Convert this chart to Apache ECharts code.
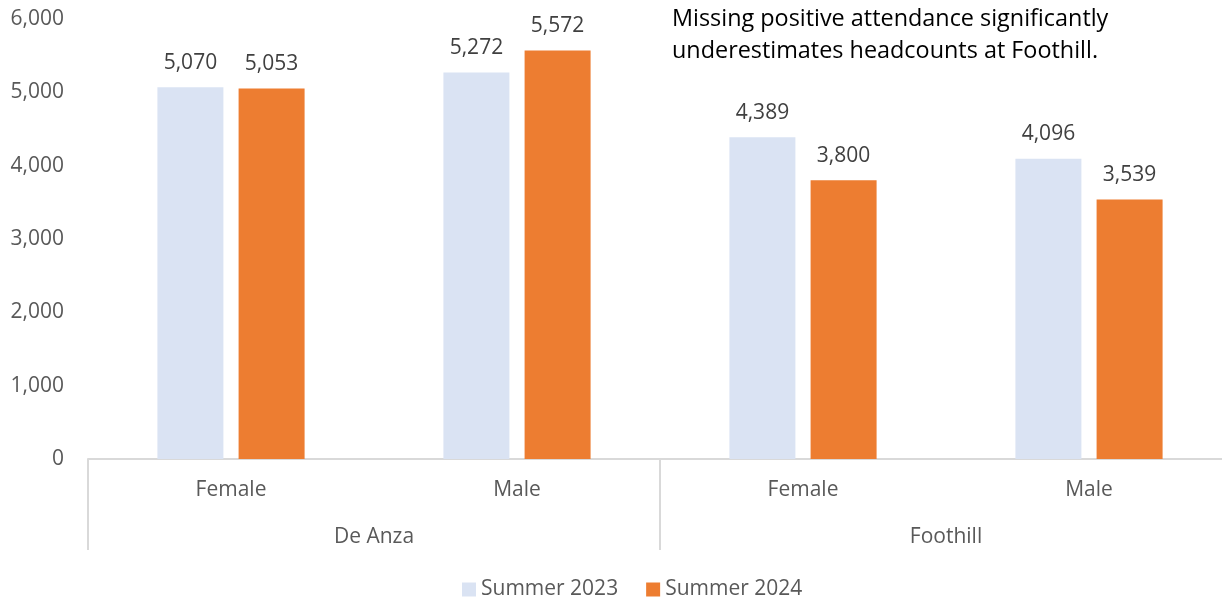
<!DOCTYPE html>
<html>
<head>
<meta charset="utf-8">
<script src="https://cdn.jsdelivr.net/npm/echarts@6/dist/echarts.min.js"></script>
<style>
  html, body { margin: 0; padding: 0; background: #fff; overflow: hidden; }
  /* a bit wider than the window: the plot area runs past the right edge, like the original */
  #chart { width: 1232px; height: 600px; }
</style>
</head>
<body>
<div id="chart"></div>
<script>
const genders = ['Female', 'Male', 'Female', 'Male']
const colleges = ['De Anza', 'Foothill']
const summer2023 = [5070, 5272, 4389, 4096]
const summer2024 = [5053, 5572, 3800, 3539]
const yTicks = [0, 1000, 2000, 3000, 4000, 5000, 6000]
const note = 'Missing positive attendance significantly\nunderestimates headcounts at Foothill.'

const font = 'Open Sans'
const c = echarts.init(document.getElementById('chart'))

const barLabel = {
  show: true, position: 'top', distance: 14,
  color: '#404040', fontSize: 21, fontFamily: font,
  formatter: p => p.value.toLocaleString('en-US'),
}

c.setOption({
  animation: false,
  textStyle: { fontFamily: font },
  grid: { left: 88, right: 0, top: 19, bottom: 141 },
  title: {
    text: note, left: 672, top: 3, padding: 0,
    textStyle: { fontSize: 23.4, fontWeight: 'normal', color: '#000', lineHeight: 32, fontFamily: font },
  },
  legend: {
    top: 574, left: 457, itemWidth: 14, itemHeight: 14, itemGap: 28, icon: 'rect',
    textStyle: { fontSize: 21, color: '#595959', fontFamily: font },
    data: ['Summer 2023', 'Summer 2024'],
  },
  xAxis: [
    {
      type: 'category', data: genders,
      axisLine: { lineStyle: { color: '#d9d9d9', width: 2 } },
      axisTick: { show: false },
      axisLabel: { color: '#595959', fontSize: 21, margin: 21, fontFamily: font },
    },
    {
      type: 'category', data: colleges, position: 'bottom',
      axisLine: { show: false },
      axisTick: { show: true, length: 91, lineStyle: { color: '#d9d9d9', width: 2 } },
      axisLabel: { color: '#595959', fontSize: 21, margin: 68, fontFamily: font },
    },
  ],
  yAxis: {
    type: 'value', min: yTicks[0], max: yTicks[yTicks.length - 1], interval: 1000,
    axisLine: { show: false }, axisTick: { show: false }, splitLine: { show: false },
    axisLabel: {
      color: '#595959', fontSize: 21, margin: 24, fontFamily: font,
      formatter: v => v.toLocaleString('en-US'),
    },
  },
  series: [
    {
      name: 'Summer 2023', type: 'bar', xAxisIndex: 0, data: summer2023,
      barWidth: 66, barGap: '23%', itemStyle: { color: '#dae3f3' }, label: barLabel,
    },
    {
      name: 'Summer 2024', type: 'bar', xAxisIndex: 0, data: summer2024,
      barWidth: 66, itemStyle: { color: '#ed7d31' }, label: barLabel,
    },
  ],
})
</script>
</body>
</html>
